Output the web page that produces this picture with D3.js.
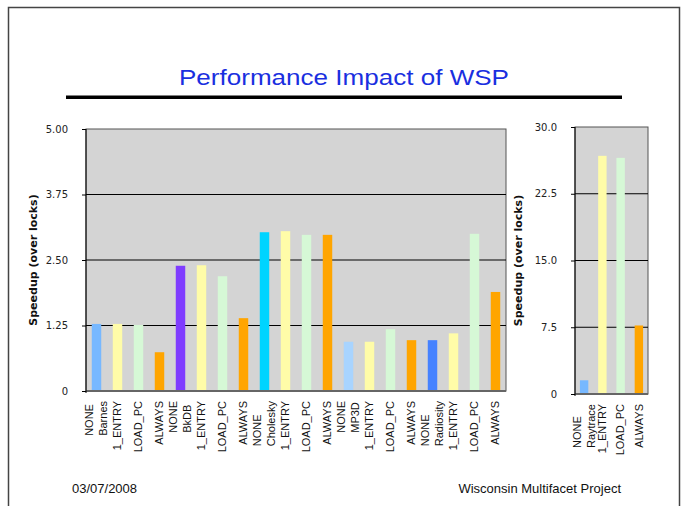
<!DOCTYPE html>
<html>
<head>
<meta charset="utf-8">
<script src="https://cdn.jsdelivr.net/npm/d3@7"></script>
<style>
  body { margin: 0; background: #fff; }
  svg { display: block; }
</style>
</head>
<body>
<div class="canvas"></div>
<script>
// data
const schemes = ['NONE', '1_ENTRY', 'LOAD_PC', 'ALWAYS']
const benchmarks = ['Barnes', 'BkDB', 'Cholesky', 'MP3D', 'Radiosity']
const noneVals = [1.28, 2.39, 3.03, 0.94, 0.97]
const oneEntryVals = [1.28, 2.40, 3.05, 0.94, 1.10]
const loadPcVals = [1.26, 2.19, 2.98, 1.18, 3.00]
const alwaysVals = [0.74, 1.39, 2.98, 0.97, 1.89]
const noneColors = ['#77b8ff', '#7f3cff', '#00d4ff', '#a8d4ff', '#4682ff']

const raytraceName = 'Raytrace'
const raytraceVals = [1.54, 26.76, 26.53, 7.70]
const raytraceNoneColor = '#77b8ff'

const mainTicks = [0, 1.25, 2.5, 3.75, 5]
const raytraceTicks = [0, 7.5, 15, 22.5, 30]

const schemeColors = { '1_ENTRY': '#fffca8', 'LOAD_PC': '#d6f8d6', 'ALWAYS': '#ffa500' }

const svg = d3.select('.canvas').append('svg').attr('width', 688).attr('height', 506)

// slide frame
svg.append('path')
    .attr('d', 'M8.5,506 L8.5,7.5 L679.5,7.5 L679.5,506')
    .attr('fill', 'none')
    .attr('stroke', '#444')
    .attr('stroke-width', 1.5)

svg.append('text')
    .attr('x', 179).attr('y', 85)
    .attr('font-family', 'Liberation Sans, Arial, sans-serif')
    .attr('font-size', 22.5)
    .attr('fill', '#1a2fe0')
    .attr('textLength', 330)
    .attr('lengthAdjust', 'spacingAndGlyphs')
    .text('Performance Impact of WSP')

svg.append('rect').attr('x', 66).attr('y', 95.5).attr('width', 556).attr('height', 3.5).attr('fill', '#000')

svg.append('text')
    .attr('x', 72).attr('y', 492.5)
    .attr('font-family', 'Liberation Sans, Arial, sans-serif')
    .attr('font-size', 13).attr('fill', '#111')
    .text('03/07/2008')

svg.append('text')
    .attr('x', 621).attr('y', 492.5)
    .attr('text-anchor', 'end')
    .attr('font-family', 'Liberation Sans, Arial, sans-serif')
    .attr('font-size', 13).attr('fill', '#111')
    .text('Wisconsin Multifacet Project')

// rows for both panels
const mainRows = []
benchmarks.forEach((b, i) => {
    const vals = [noneVals[i], oneEntryVals[i], loadPcVals[i], alwaysVals[i]]
    schemes.forEach((s, j) => {
        mainRows.push({
            key: b + '|' + s,
            lines: j === 0 ? [s, b] : [s],
            value: vals[j],
            color: j === 0 ? noneColors[i] : schemeColors[s]
        })
    })
})

const rayRows = schemes.map((s, j) => ({
    key: raytraceName + '|' + s,
    lines: j === 0 ? [s, raytraceName] : [s],
    value: raytraceVals[j],
    color: j === 0 ? raytraceNoneColor : schemeColors[s]
}))

function drawPanel(rows, ticks, fmt, box) {
    const g = svg.append('g').attr('transform', `translate(${box.left}, ${box.top})`)
    const w = box.right - box.left
    const h = box.bottom - box.top

    const x = d3.scaleBand()
        .domain(rows.map(d => d.key))
        .range([0, w])
        .paddingInner(box.pad)
        .paddingOuter(box.pad / 2)

    const y = d3.scaleLinear()
        .domain([0, d3.max(ticks)])
        .range([h, 0])

    g.append('rect').attr('width', w).attr('height', h)
        .attr('fill', '#d4d4d4').attr('stroke', '#555').attr('stroke-width', 1)

    // gridlines
    g.selectAll('.grid').data(ticks.filter(t => t > 0 && t < d3.max(ticks)))
        .enter().append('line')
        .attr('x1', 0).attr('x2', w)
        .attr('y1', d => y(d)).attr('y2', d => y(d))
        .attr('stroke', '#000').attr('stroke-width', 1.2)

    g.selectAll('.bar').data(rows)
        .enter().append('rect')
        .attr('x', d => x(d.key))
        .attr('y', d => y(d.value))
        .attr('width', x.bandwidth())
        .attr('height', d => h - y(d.value))
        .attr('fill', d => d.color)

    // bottom axis line
    g.append('line').attr('x1', 0).attr('x2', w).attr('y1', h).attr('y2', h)
        .attr('stroke', '#666').attr('stroke-width', 2)

    const yAxis = d3.axisLeft(y).tickValues(ticks).tickSize(4).tickPadding(14)
        .tickFormat(d => d === 0 ? '0' : fmt(d))
    const yAxisGroup = g.append('g').call(yAxis)
    yAxisGroup.select('.domain').attr('stroke', '#000').attr('d', `M0,0V${h + 2}`)
    yAxisGroup.selectAll('.tick line').attr('stroke', '#000')
    yAxisGroup.selectAll('text')
        .attr('font-family', 'DejaVu Sans, Verdana, sans-serif')
        .attr('font-size', 10).attr('fill', '#222')

    // category labels, rotated
    const labels = g.selectAll('.lab').data(rows).enter().append('g')
        .attr('transform', d => `translate(${x(d.key) + x.bandwidth() / 2}, ${h + 10}) rotate(-90)`)
    labels.each(function(d) {
        const lab = d3.select(this)
        const n = d.lines.length
        const texts = d.lines.map((t, i) => lab.append('text')
            .attr('y', (i - (n - 1) / 2) * 14)
            .attr('dy', '0.35em')
            .attr('font-family', 'Liberation Sans, Arial, sans-serif')
            .attr('font-size', 11).attr('fill', '#111')
            .text(t))
        const maxLen = d3.max(texts, t => t.node().getComputedTextLength())
        texts.forEach(t => t.attr('x', -maxLen))
    })

    svg.append('text')
        .attr('transform', `translate(${box.titleX}, ${box.top + h / 2}) rotate(-90)`)
        .attr('text-anchor', 'middle')
        .attr('font-family', 'DejaVu Sans, Verdana, sans-serif')
        .attr('font-weight', 'bold')
        .attr('font-size', 11).attr('fill', '#111')
        .text('Speedup (over locks)')
}

drawPanel(mainRows, mainTicks, d3.format('.2f'),
    { left: 86, right: 506, top: 129, bottom: 391, pad: 0.55, titleX: 37 })
drawPanel(rayRows, raytraceTicks, d3.format('.1f'),
    { left: 575, right: 648, top: 127, bottom: 394, pad: 0.54, titleX: 522 })
</script>
</body>
</html>
